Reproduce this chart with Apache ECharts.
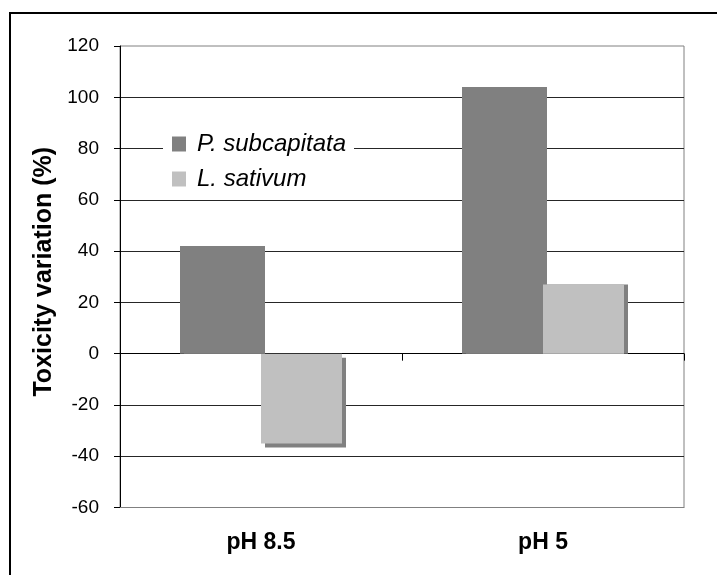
<!DOCTYPE html>
<html>
<head>
<meta charset="utf-8">
<script src="https://cdn.jsdelivr.net/npm/echarts@6/dist/echarts.min.js"></script>
<style>
html,body{margin:0;padding:0;background:#fff;}
#chart{width:717px;height:575px;}
</style>
</head>
<body>
<div id="chart"></div>
<script>
var categories = ['pH 8.5', 'pH 5'];
var seriesNames = ['P. subcapitata', 'L. sativum'];
var pSubcapitata = [42, 104];
var lSativum = [-35, 27];
var yTicks = {min: -60, max: 120, interval: 20};

var FONT = "'Liberation Sans', Arial, sans-serif";
var colors = ['#808080', '#c0c0c0'];

function items(arr) {
  return arr.map(function (v) {
    return {
      value: v,
      itemStyle: {
        shadowColor: '#808080',
        shadowBlur: 0,
        shadowOffsetX: 4,
        shadowOffsetY: v < 0 ? 4 : 0
      }
    };
  });
}

var chart = echarts.init(document.getElementById('chart'), null, {renderer: 'canvas'});
chart.setOption({
  animation: false,
  backgroundColor: '#fff',
  textStyle: {fontFamily: FONT},
  graphic: [{
    type: 'rect',
    shape: {x: 10, y: 13, width: 1000, height: 1000},
    style: {fill: 'none', stroke: '#000', lineWidth: 2},
    silent: true, z: 100
  }],
  grid: {
    left: 120, right: 33, top: 46, bottom: 67.5,
    show: true, borderColor: '#808080', borderWidth: 1, backgroundColor: 'transparent'
  },
  legend: {
    orient: 'vertical',
    left: 163, top: 126,
    padding: [6, 8, 6, 9],
    backgroundColor: '#fff',
    itemWidth: 14, itemHeight: 15, itemGap: 11,
    icon: 'rect',
    data: seriesNames,
    textStyle: {fontFamily: FONT, fontSize: 24, lineHeight: 24, fontStyle: 'italic', color: '#000', padding: [0, 0, 0, 6]}
  },
  xAxis: [{
    type: 'category',
    data: categories,
    position: 'bottom',
    axisLine: {onZero: false, lineStyle: {color: '#808080', width: 1}},
    axisTick: {show: false},
    axisLabel: {fontFamily: FONT, fontSize: 23, fontWeight: 'bold', color: '#000', margin: 24},
    splitLine: {show: false}
  }, {
    type: 'category',
    data: categories,
    position: 'bottom',
    axisLine: {onZero: true, lineStyle: {color: '#000', width: 1}},
    axisTick: {show: true, length: 7, lineStyle: {color: '#000'}},
    axisLabel: {show: false},
    splitLine: {show: false}
  }],
  yAxis: {
    type: 'value',
    min: yTicks.min, max: yTicks.max, interval: yTicks.interval,
    name: 'Toxicity variation (%)',
    nameLocation: 'middle',
    nameGap: 62,
    nameTextStyle: {fontFamily: FONT, fontSize: 25, fontWeight: 'bold', color: '#000', padding: [0, 0, 0, 10]},
    axisLine: {show: true, lineStyle: {color: '#000', width: 1}},
    axisTick: {show: true, length: 6, lineStyle: {color: '#000'}},
    axisLabel: {fontFamily: FONT, fontSize: 19, color: '#000', margin: 21},
    splitLine: {show: true, showMinLine: false, showMaxLine: false, lineStyle: {color: '#262626', width: 1}}
  },
  series: [{
    name: seriesNames[0],
    type: 'bar',
    xAxisIndex: 0,
    data: items(pSubcapitata),
    barWidth: 81,
    barGap: '0%',
    itemStyle: {color: colors[0]}
  }, {
    name: seriesNames[1],
    type: 'bar',
    xAxisIndex: 0,
    data: items(lSativum),
    barWidth: 81,
    barGap: '0%',
    itemStyle: {color: colors[1]}
  }]
});
</script>
</body>
</html>
